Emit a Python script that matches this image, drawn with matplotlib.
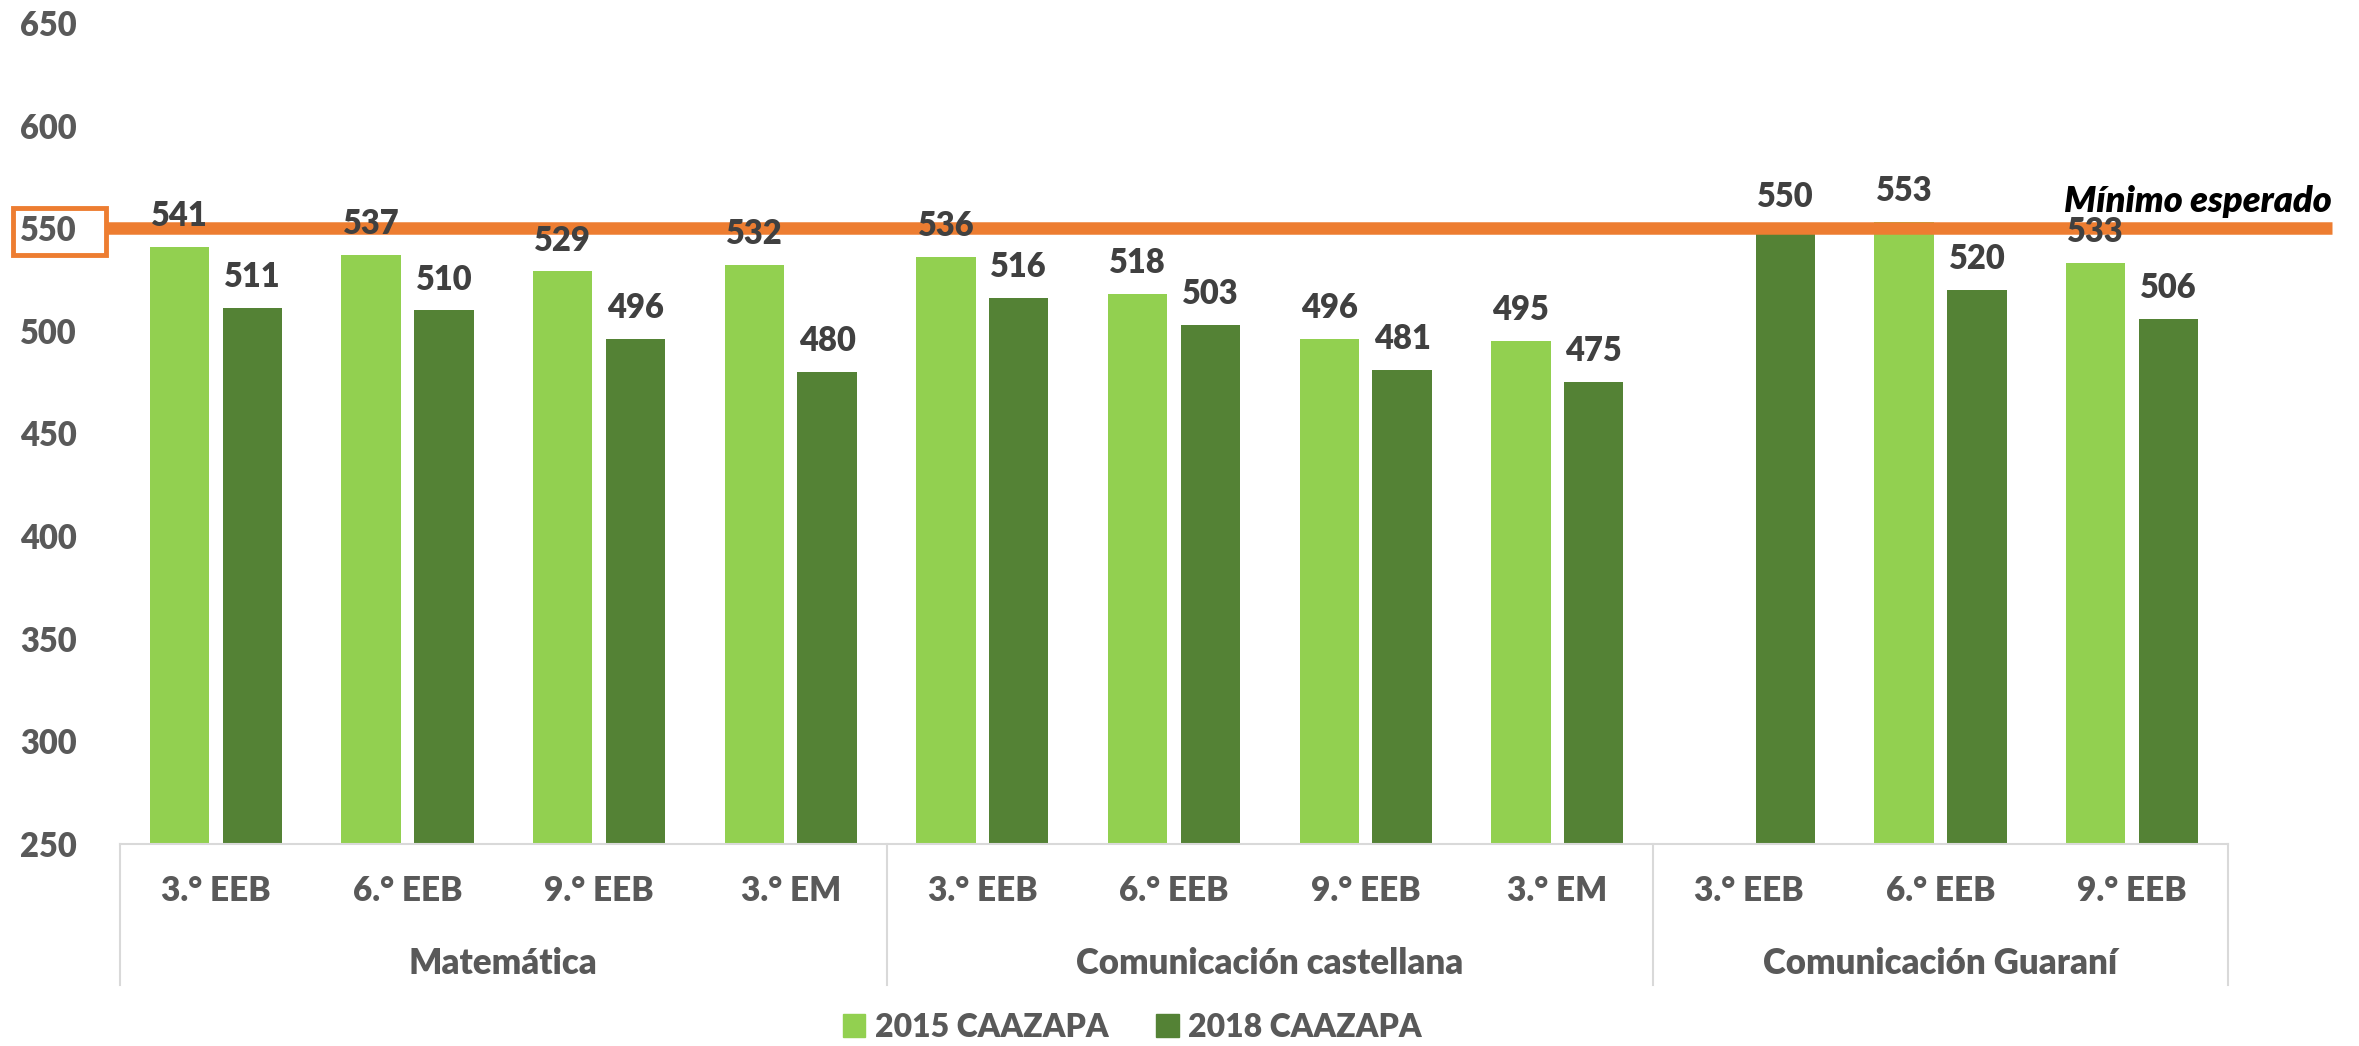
import matplotlib
matplotlib.use("Agg")
import matplotlib.pyplot as plt
from matplotlib.patches import Rectangle, Patch
from matplotlib.transforms import blended_transform_factory
import numpy as np

plt.rcParams['font.family'] = ['Lato', 'DejaVu Sans']

# data
groups = ['Matemática', 'Comunicación castellana', 'Comunicación Guaraní']
group_sizes = [4, 4, 3]
grades = ['3.° EEB', '6.° EEB', '9.° EEB', '3.° EM',
          '3.° EEB', '6.° EEB', '9.° EEB', '3.° EM',
          '3.° EEB', '6.° EEB', '9.° EEB']
vals_2015 = [541, 537, 529, 532, 536, 518, 496, 495, None, 553, 533]
vals_2018 = [511, 510, 496, 480, 516, 503, 481, 475, 550, 520, 506]
series_names = ['2015 CAAZAPA', '2018 CAAZAPA']
minimo = 550
yticks = [250, 300, 350, 400, 450, 500, 550, 600, 650]

c15 = '#92D050'
c18 = '#548235'
orange = '#ED7D31'
grey = '#595959'
sep = '#D9D9D9'
wt = 'heavy'

W, H = 2359, 1046
fig = plt.figure(figsize=(W / 100, H / 100), dpi=100)
ax = fig.add_axes([120 / W, 202 / H, 2108 / W, 821 / H])

x = np.arange(len(grades))
bw = 0.31
off = 0.19
for i, (a, b) in enumerate(zip(vals_2015, vals_2018)):
    if a is not None:
        ax.bar(x[i] - off, a - 250, bottom=250, width=bw, color=c15, zorder=2)
        ax.annotate(str(a), (x[i] - off, a), xytext=(0, 15), textcoords='offset points',
                    ha='center', va='baseline', fontsize=23.5, fontweight=wt,
                    color='#404040', zorder=5)
    ax.bar(x[i] + off, b - 250, bottom=250, width=bw, color=c18, zorder=2)
    ax.annotate(str(b), (x[i] + off, b), xytext=(0, 15), textcoords='offset points',
                ha='center', va='baseline', fontsize=23.5, fontweight=wt,
                color='#404040', zorder=5)

ax.set_xlim(-0.5, len(grades) - 0.5)
ax.set_ylim(250, 650)
ax.set_yticks(yticks)
ax.set_yticklabels([str(t) for t in yticks], fontsize=23.5, fontweight=wt, color=grey)
ax.tick_params(axis='y', length=0, pad=31)
ax.set_xticks([])
for s in ['top', 'right', 'left']:
    ax.spines[s].set_visible(False)
ax.spines['bottom'].set_color(sep)
ax.spines['bottom'].set_linewidth(1.5)

# category axis: grades, groups, separators
xt = ax.get_xaxis_transform()
for i, g in enumerate(grades):
    ax.text(x[i], -0.057, g, transform=xt, ha='center', va='center',
            fontsize=24, fontweight=wt, color=grey)
start = 0
edges = [-0.5]
for g, n in zip(groups, group_sizes):
    ax.text(start + (n - 1) / 2, -0.146, g, transform=xt, ha='center', va='center',
            fontsize=25, fontweight=wt, color=grey)
    start += n
    edges.append(start - 0.5)
for e in edges:
    ax.plot([e, e], [0, -0.172], transform=xt, color=sep, lw=1.5, clip_on=False)

# minimum expected line
bt = blended_transform_factory(fig.transFigure, ax.transData)
ax.plot([107 / W, 2332 / W], [minimo, minimo], transform=bt, color=orange,
        lw=9, solid_capstyle='butt', clip_on=False, zorder=4)
ax.annotate('Mínimo esperado', (2332 / W, minimo), xycoords=('figure fraction', 'data'),
            xytext=(0, 11.5), textcoords='offset points', ha='right', va='baseline',
            fontsize=26, fontweight=wt, fontstyle='italic', color='black')
fig.patches.append(Rectangle((13 / W, 1 - 255 / H), 93 / W, 47 / H, fill=False,
                             edgecolor=orange, lw=3.5, transform=fig.transFigure))

handles = [Patch(color=c15), Patch(color=c18)]
fig.legend(handles, series_names, loc='center', bbox_to_anchor=(0.48, 0.018), ncol=2,
           frameon=False, prop={'size': 23, 'weight': wt}, labelcolor=grey,
           handlelength=0.7, handleheight=0.7, handletextpad=0.3, columnspacing=1.5)

fig.savefig('out.png', dpi=100)
